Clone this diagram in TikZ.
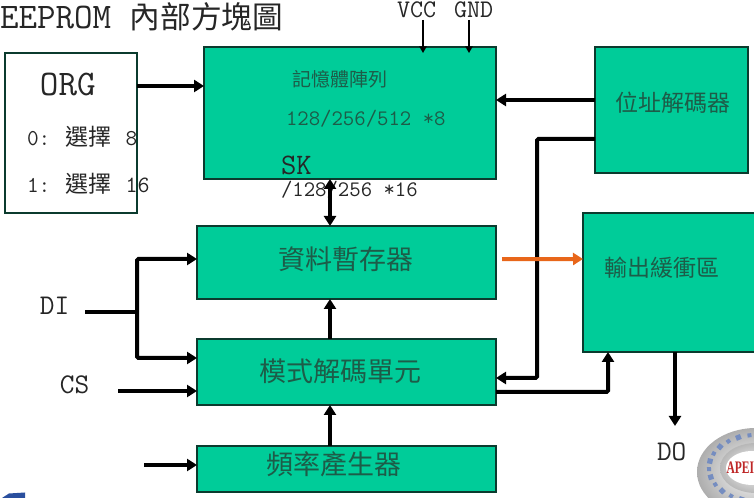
\documentclass[tikz,border=0pt]{standalone}
\usepackage{fontspec}
\setmainfont{Liberation Serif}
\newfontfamily\cjk{Noto Sans CJK TC}
\usetikzlibrary{arrows.meta}
\definecolor{boxgreen}{HTML}{00CC99}
\definecolor{boxline}{HTML}{0B3B2E}
\definecolor{inkgreen}{HTML}{1D5C48}
\definecolor{orangeline}{HTML}{E8661A}
\definecolor{logoblue}{HTML}{2A4F9E}
\newcommand{\zh}[2]{{\cjk\fontsize{#1}{#1}\selectfont #2}}
\newcommand{\mn}[2]{{\ttfamily\fontsize{#1}{#1}\selectfont #2}}

\begin{document}
\begin{tikzpicture}[
    x=0.75pt, y=-0.75pt,
    every node/.style={inner sep=0pt, outer sep=0pt},
    block/.style={draw=boxline, line width=1pt, fill=boxgreen, anchor=north west},
    label/.style={text=black!85, anchor=west},
    flow/.style={-{Triangle[length=7.5pt,width=9pt]}, line width=3pt},
    plain/.style={line width=3pt},
    thinflow/.style={-{Triangle[length=5pt,width=5.5pt]}, line width=1pt}]
  \useasboundingbox (0,0) rectangle (754,498);
  % --- logo and corner ---
  \fill[logoblue] (2,498) -- (9,493.5) -- (25,492.5) -- (25,498) -- cycle;
  \shade[inner color=white, outer color=black!32] (756,472) ellipse [x radius=59, y radius=44];
  \shade[inner color=white, middle color=white, outer color=black!28] (756,468) ellipse [x radius=36, y radius=25];
  \fill[white] (752,468) ellipse [x radius=26, y radius=17];
  \foreach \ang/\len in {98/2,112/2.6,126/2,140/2.6,154/2,168/2.6,182/2,196/2.6,210/2,224/2.6,238/2,252/2.6}
    \fill[logoblue!65, rotate around={\ang:({756+47*cos(\ang)},{468-33*sin(\ang)})}]
      ({756+47*cos(\ang)-\len},{468-33*sin(\ang)-\len}) rectangle ++(2*\len,2*\len);
  \node[anchor=west, text=red!70!black!85] (apei) at (726.5,468)
    {\scalebox{0.72}[1.1]{\bfseries\fontsize{12}{12}\selectfont APEI}};
  % --- blocks ---
  \node[block, fill=white, minimum width=99pt, minimum height=120pt] (org) at (5,53) {};
  \node[block, minimum width=219pt, minimum height=99pt] (mem) at (204,47) {};
  \node[block, minimum width=224.25pt, minimum height=54.75pt] (reg) at (197,226) {};
  \node[block, minimum width=224.25pt, minimum height=49.5pt] (mode) at (197,339) {};
  \node[block, minimum width=224.25pt, minimum height=34.5pt] (clk) at (197,446) {};
  \node[block, minimum width=114.75pt, minimum height=94.5pt] (addr) at (595,47) {};
  \node[block, minimum width=135pt, minimum height=104.25pt] (buf) at (583,213) {};
  % --- free ends ---
  \coordinate (vcc) at (423,20);
  \coordinate (gnd) at (469,20);
  \coordinate (di) at (85,312);
  \coordinate (dij) at (137,312);
  \coordinate (cs) at (118,391);
  \coordinate (clkin) at (144,465);
  \coordinate (do) at (675,426);
  % --- texts ---
  \node[label] (title) at (0,17) {\mn{27}{EEPROM}\hspace{14pt}\zh{23}{內部方塊圖}};
  \node[label] (vcctxt) at (397,10) {\mn{19}{VCC}};
  \node[label] (gndtxt) at (454,10) {\mn{19}{GND}};
  \node[label] (orgtxt) at (40,85) {\mn{27}{ORG}};
  \node[label] (sel0) at (27,137) {\mn{17}{0:}\hspace{11.5pt}\zh{17.25}{選擇}\hspace{10.5pt}\mn{17}{8}};
  \node[label] (sel1) at (27,184) {\mn{17}{1:}\hspace{11.5pt}\zh{17.25}{選擇}\hspace{10.5pt}\mn{17.5}{16}};
  \node[label, text=inkgreen] (memtxt) at (292,79) {\zh{14.25}{記憶體陣列}};
  \node[label, text=inkgreen] (memsize) at (286,119) {\mn{16.6}{128/256/512 *8}};
  \node[label] (sk) at (281,165) {\mn{22.3}{SK}};
  \node[label] (memwide) at (281,190) {\mn{16.6}{/128/256 *16}};
  \node[label, text=inkgreen] (regtxt) at (278,259) {\zh{20.25}{資料暫存器}};
  \node[label, text=inkgreen] (modetxt) at (259,371) {\zh{20.25}{模式解碼單元}};
  \node[label, text=inkgreen] (clktxt) at (266,464) {\zh{20.25}{頻率產生器}};
  \node[label, text=inkgreen] (addrtxt) at (615,103) {\zh{17.25}{位址解碼器}};
  \node[label, text=inkgreen] (buftxt) at (604,268) {\zh{17.25}{輸出緩衝區}};
  \node[label] (ditxt) at (40,306) {\mn{21.4}{DI}};
  \node[label] (cstxt) at (60,385) {\mn{21.4}{CS}};
  \node[label] (dotxt) at (657,452) {\mn{21.4}{DO}};
  % --- connectors ---
  \draw[thinflow] (vcc) -- ([yshift=-4.5pt]vcc |- mem.north);
  \draw[thinflow] (gnd) -- ([yshift=-4.5pt]gnd |- mem.north);
  \draw[flow] (org.east |- 0,86) -- (mem.west |- 0,86);
  \draw[flow] (addr.west |- 0,100) -- (mem.east |- 0,100);
  \draw[{Triangle[length=7.5pt,width=9pt]}-{Triangle[length=7.5pt,width=9pt]}, line width=3pt]
        (330,0 |- mem.south) -- (330,0 |- reg.north);
  \draw[flow] (330,0 |- mode.north) -- (330,0 |- reg.south);
  \draw[flow] (330,0 |- clk.north) -- (330,0 |- mode.south);
  \draw[plain] (di) -- (dij);
  \draw[flow, rounded corners=1pt] (dij) |- (reg.west |- 0,259);
  \draw[flow, rounded corners=1pt] (dij) |- (mode.west |- 0,358);
  \draw[flow] (cs) -- (mode.west |- cs);
  \draw[flow] (clkin) -- (clk.west |- clkin);
  \draw[flow, rounded corners=1pt] (addr.west |- 0,139) -| (537,378) -- (mode.east |- 0,378);
  \draw[flow, rounded corners=1pt] (mode.east |- 0,392) -| (608,0 |- buf.south);
  \draw[flow, draw=orangeline] ([xshift=4.5pt,yshift=2.5pt]reg.east) -- (buf.west |- 0,259);
  \draw[flow] (675,0 |- buf.south) -- (do);
\end{tikzpicture}
\end{document}
